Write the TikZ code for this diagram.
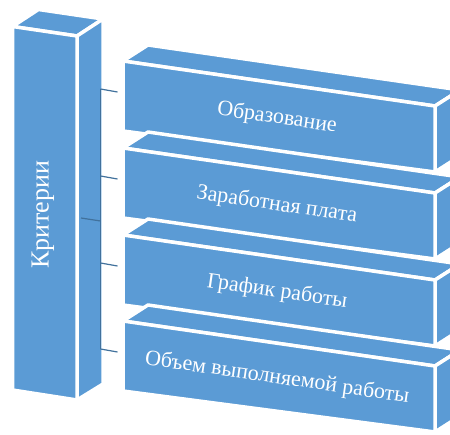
\documentclass[tikz,border=0pt]{standalone}
\usepackage{fontspec}
\setmainfont{Liberation Serif}
\usepackage{xcolor}
\usepackage{tikz}

\definecolor{boxblue}{RGB}{91,155,213}
\definecolor{linkblue}{RGB}{65,113,156}

\begin{document}
\begin{tikzpicture}[x=1pt,y=-1pt,
    face/.style={fill=boxblue, draw=white, line width=3.5pt, line join=round},
    link/.style={draw=linkblue, line width=1.2pt},
    boxtext/.style={text=white, font=\fontsize{22}{24}\selectfont, rotate=-8.3, inner sep=0pt},
    coltext/.style={text=white, font=\fontsize{26}{28}\selectfont, rotate=90, inner sep=0pt}]
  \useasboundingbox (0,0) rectangle (450,435);
  \clip (0,0) rectangle (450,435);

  % column
  \draw[face] (12.5,26.5) -- (38.5,9.5) -- (103,19) -- (77,36) -- cycle;
  \draw[face] (77,36) -- (103,19) -- (103,384) -- (77,400) -- cycle;
  \draw[face] (12.5,26.5) -- (77,36) -- (77,400) -- (12.5,390) -- cycle;
  \node[coltext] (crit) at (43,215) {Критерии};

  % boxes
  \foreach \y/\nm/\txt [count=\i] in {61/edu/Образование, 148/pay/Заработная плата,
                                      235/sched/График работы, 321/vol/Объем выполняемой работы} {
    \draw[face] (123,\y) -- ++(25,-16) -- (460,\y+29) -- (435,\y+45) -- cycle;
    \draw[face] (435,\y+45) -- ++(25,-16) -- ++(0,66) -- (435,\y+111) -- cycle;
    \draw[face] (123,\y) -- (435,\y+45) -- (435,\y+111) -- (123,\y+70) -- cycle;
    \node[boxtext] (\nm) at (277,\y+57) {\txt};
    \coordinate (hub\i) at (100.5,\y+28);
    \coordinate (in\i) at (117.5,\y+31);
  }

  % connectors
  \coordinate (crit-out) at (81,218);
  \coordinate (hub) at (100.5,221);
  \draw[link] (crit-out) -- (hub);
  \draw[link] (hub1) -- (hub4);
  \foreach \i in {1,...,4}
    \draw[link] (hub\i) -- (in\i);
\end{tikzpicture}
\end{document}
